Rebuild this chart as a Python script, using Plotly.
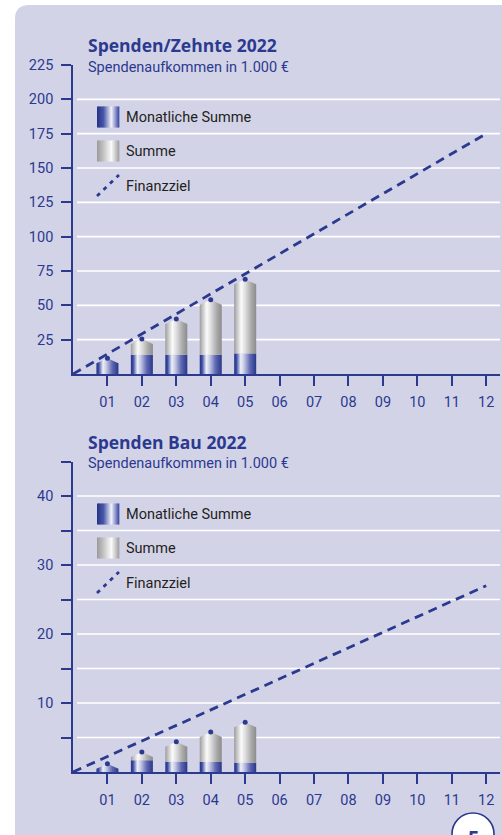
import plotly.graph_objects as go

# ---------------- data ----------------
months = [1, 2, 3, 4, 5]
month_ticks = [1, 2, 3, 4, 5, 6, 7, 8, 9, 10, 11, 12]
month_labels = ["01", "02", "03", "04", "05", "06", "07", "08", "09", "10", "11", "12"]
goal_months = [0, 1, 2, 3, 4, 5, 6, 7, 8, 9, 10, 11, 12]

zehnte_monthly = [11.5, 14, 14, 14, 15]
zehnte_total = [11.5, 25.5, 40, 54, 69]
zehnte_goal = [0, 14.6, 29.2, 43.75, 58.3, 72.9, 87.5, 102.1, 116.7, 131.25, 145.8, 160.4, 175]
zehnte_yticks = [25, 50, 75, 100, 125, 150, 175, 200, 225]
zehnte_yticklabels = ["25", "50", "75", "100", "125", "150", "175", "200", "225"]

bau_monthly = [1.2, 1.7, 1.5, 1.45, 1.35]
bau_total = [1.2, 2.9, 4.4, 5.8, 7.2]
bau_goal = [0, 2.25, 4.5, 6.75, 9, 11.25, 13.5, 15.75, 18, 20.25, 22.5, 24.75, 27]
bau_yticks = [5, 10, 15, 20, 25, 30, 35, 40, 45]
bau_yticklabels = ["", "10", "", "20", "", "30", "", "40", ""]

titles = ["Spenden/Zehnte 2022", "Spenden Bau 2022"]
subtitle = "Spendenaufkommen in 1.000 €"
legend_labels = ["Monatliche Summe", "Summe", "Finanzziel"]

# ---------------- style ----------------
W, H = 502, 835
NAVY = "#2b3a8e"
PANEL = "#d3d3e8"
TEXT = "#231f20"
FONT = "Roboto, Liberation Sans, sans-serif"
TFONT = "Open Sans, Noto Sans, sans-serif"

BLUE_CS = [[0, "#24338a"], [0.1, "#3a4aa0"], [0.3, "#eef0f8"], [0.45, "#c4c8e4"],
           [0.72, "#5f68b2"], [1, "#283789"]]
GRAY_CS = [[0, "#9c9c9c"], [0.1, "#bcbcbc"], [0.32, "#fbfbfb"], [0.5, "#dedede"],
           [0.78, "#a9a9a9"], [1, "#8c8c8c"]]
BLUE_SW = [[0, "#24338a"], [0.3, "#4a58a8"], [0.65, "#f2f2fa"], [0.85, "#8890c8"], [1, "#3a48a0"]]
GRAY_SW = [[0, "#9a9a9a"], [0.3, "#c4c4c4"], [0.65, "#fbfbfb"], [0.85, "#c8c8c8"], [1, "#a0a0a0"]]


def px(x):
    return x / W


def py(y):
    return 1 - y / H


X_LEFT, X_RIGHT = 73, 500
XRANGE = [0, 12.4]
charts = [
    dict(xa="x", ya="y", y0=374, y1=65, yr=[0, 225], monthly=zehnte_monthly, total=zehnte_total,
         goal=zehnte_goal, yt=zehnte_yticks, ytl=zehnte_yticklabels, title_y=45, sub_y=67,
         rows=[117, 151, 186]),
    dict(xa="x2", ya="y2", y0=772, y1=461.5, yr=[0, 45], monthly=bau_monthly, total=bau_total,
         goal=bau_goal, yt=bau_yticks, ytl=bau_yticklabels, title_y=442, sub_y=463,
         rows=[514, 548, 583]),
]

HALF = 0.32  # half bar width in months
CONE_PX = 5

fig = go.Figure()
shapes = []
annotations = []

# panel background with rounded top-left corner
r = 14
path = (f"M {px(15)} {py(835)} L {px(15)} {py(5 + r)} Q {px(15)} {py(5)} {px(15 + r)} {py(5)} "
        f"L {px(502)} {py(5)} L {px(502)} {py(835)} Z")
shapes.append(dict(type="path", path=path, xref="paper", yref="paper", fillcolor=PANEL,
                   line=dict(width=0), layer="below"))


def interp_color(cs, t):
    for i in range(len(cs) - 1):
        a, ca = cs[i]
        b, cb = cs[i + 1]
        if a <= t <= b:
            f = 0 if b == a else (t - a) / (b - a)
            c1 = [int(ca[k:k + 2], 16) for k in (1, 3, 5)]
            c2 = [int(cb[k:k + 2], 16) for k in (1, 3, 5)]
            c = [round(c1[j] + (c2[j] - c1[j]) * f) for j in range(3)]
            return "rgb(%d,%d,%d)" % tuple(c)
    return cs[-1][1]


def swatch(x0, x1, yc, h, cs, n=22):
    for i in range(n):
        a = x0 + (x1 - x0) * i / n
        b = x0 + (x1 - x0) * (i + 1) / n + 0.4
        shapes.append(dict(type="rect", xref="paper", yref="paper", x0=px(a), x1=px(b),
                           y0=py(yc + h / 2), y1=py(yc - h / 2),
                           fillcolor=interp_color(cs, (i + 0.5) / n), line=dict(width=0)))


for idx, ch in enumerate(charts):
    xa, ya = ch["xa"], ch["ya"]
    hp = ch["y0"] - ch["y1"]
    cone = CONE_PX * (ch["yr"][1] - ch["yr"][0]) / hp
    # gridlines
    for v in ch["yt"][:-1]:
        shapes.append(dict(type="line", xref="paper", yref=ya, x0=px(77), x1=px(X_RIGHT),
                           y0=v, y1=v, line=dict(color="white", width=1.6), layer="below"))
    # bars
    for m, mon, tot in zip(months, ch["monthly"], ch["total"]):
        l, rr = m - HALF, m + HALF
        sh = tot - cone
        if mon >= tot - 1e-9:
            fig.add_trace(go.Scatter(x=[l, l, m, rr, rr, l], y=[0, sh, tot, sh, 0, 0],
                                     fill="toself", mode="lines", line=dict(width=0),
                                     fillgradient=dict(type="horizontal", colorscale=BLUE_CS),
                                     hoverinfo="skip", showlegend=False, xaxis=xa, yaxis=ya))
        else:
            fig.add_trace(go.Scatter(x=[l, l, rr, rr, l], y=[0, mon, mon, 0, 0],
                                     fill="toself", mode="lines", line=dict(width=0),
                                     fillgradient=dict(type="horizontal", colorscale=BLUE_CS),
                                     hoverinfo="skip", showlegend=False, xaxis=xa, yaxis=ya))
            fig.add_trace(go.Scatter(x=[l, l, m, rr, rr, l], y=[mon, sh, tot, sh, mon, mon],
                                     fill="toself", mode="lines", line=dict(width=0),
                                     fillgradient=dict(type="horizontal", colorscale=GRAY_CS),
                                     hoverinfo="skip", showlegend=False, xaxis=xa, yaxis=ya))
    # goal line
    fig.add_trace(go.Scatter(x=goal_months, y=ch["goal"], mode="lines",
                             line=dict(color=NAVY, width=2.8, dash="9px,6px"),
                             hoverinfo="skip", showlegend=False, xaxis=xa, yaxis=ya))
    # value dots
    fig.add_trace(go.Scatter(x=months, y=ch["total"], mode="markers",
                             marker=dict(color=NAVY, size=5),
                             hoverinfo="skip", showlegend=False, xaxis=xa, yaxis=ya))
    # titles
    annotations.append(dict(text="<b>" + titles[idx] + "</b>", xref="paper", yref="paper",
                            x=px(86), y=py(ch["title_y"]), xanchor="left", yanchor="middle",
                            showarrow=False, font=dict(family=TFONT, size=17.5, color=NAVY)))
    annotations.append(dict(text=subtitle, xref="paper", yref="paper",
                            x=px(86), y=py(ch["sub_y"]), xanchor="left", yanchor="middle",
                            showarrow=False, font=dict(family=FONT, size=14.5, color=NAVY)))
    # legend
    rows = ch["rows"]
    swatch(97, 119, rows[0], 21, BLUE_SW)
    swatch(97, 119, rows[1], 21, GRAY_SW)
    shapes.append(dict(type="line", xref="paper", yref="paper", x0=px(97), x1=px(119),
                       y0=py(rows[2] + 10), y1=py(rows[2] - 11),
                       line=dict(color=NAVY, width=2.8, dash="4px,5px")))
    for lab, rc in zip(legend_labels, rows):
        annotations.append(dict(text=lab, xref="paper", yref="paper", x=px(124), y=py(rc),
                                xanchor="left", yanchor="middle", showarrow=False,
                                font=dict(family=FONT, size=14.5, color=TEXT)))

# page-number circle
shapes.append(dict(type="circle", xref="paper", yref="paper", x0=px(452), x1=px(494),
                   y0=py(855), y1=py(813), fillcolor="white", line=dict(color=NAVY, width=1.6)))
annotations.append(dict(text="<b>5</b>", xref="paper", yref="paper", x=px(473), y=py(822),
                        xanchor="center", yanchor="top", showarrow=False,
                        font=dict(family=TFONT, size=20, color=NAVY)))

axis_common = dict(showline=True, linecolor=NAVY, linewidth=1.6, ticks="outside", ticklen=10,
                   tickwidth=1.6, tickcolor=NAVY, showgrid=False, zeroline=False,
                   automargin=False, tickfont=dict(family=FONT, size=14.5, color=NAVY))

layout_axes = {}
for idx, ch in enumerate(charts):
    sx = "" if idx == 0 else "2"
    layout_axes["xaxis" + sx] = dict(axis_common, domain=[px(X_LEFT), px(X_RIGHT)], range=XRANGE,
                                     tickvals=month_ticks, ticktext=month_labels,
                                     anchor="y" + sx, ticklabelstandoff=4)
    layout_axes["yaxis" + sx] = dict(axis_common, domain=[py(ch["y0"]), py(ch["y1"])],
                                     range=ch["yr"], tickvals=ch["yt"], ticktext=ch["ytl"],
                                     anchor="x" + sx, ticklabelstandoff=5)

fig.update_layout(width=W, height=H, margin=dict(l=0, r=0, t=0, b=0, autoexpand=False),
                  paper_bgcolor="white", plot_bgcolor="rgba(0,0,0,0)",
                  shapes=shapes, annotations=annotations, showlegend=False, **layout_axes)

fig.write_html("out.html", config={"displayModeBar": False},
               post_script="document.body.style.margin='0';document.body.style.overflow='hidden';")
